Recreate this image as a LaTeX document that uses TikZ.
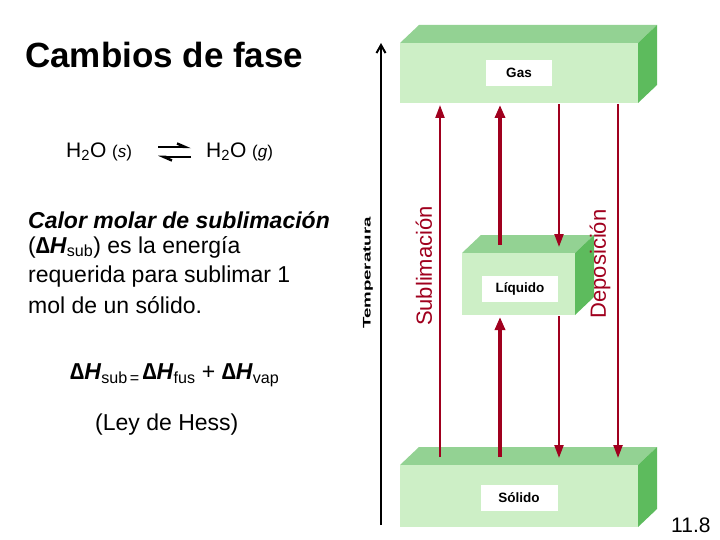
\documentclass[tikz,border=0pt]{standalone}
\usepackage{fontspec}
\setmainfont{Liberation Sans}
\usetikzlibrary{arrows.meta}
\definecolor{fr}{HTML}{CDEFC6}
\definecolor{tp}{HTML}{93D293}
\definecolor{sd}{HTML}{5DBB5D}
\definecolor{ar}{HTML}{A0001E}
\tikzset{x=1pt,y=-1pt,
 lbl/.style={fill=white,inner sep=0pt,minimum height=26pt,font=\fontsize{13.5}{15}\selectfont\bfseries},
 rarr/.style={ar,line width=2.2pt,-{Triangle[length=13pt,width=9pt]}},
 rthk/.style={ar,line width=3.5pt,-{Triangle[length=13pt,width=10pt]}},
 txt/.style={font=\fontsize{23}{26}\selectfont,anchor=west,inner sep=0pt}}
\newcommand{\slab}[4]{% x1 y1 x2 y2
 \fill[tp] (#1,#2)--(#1+19,#2-18)--(#3+19,#2-18)--(#3,#2)--cycle;
 \fill[sd] (#3,#2)--(#3+19,#2-18)--(#3+19,#4-18)--(#3,#4)--cycle;
 \fill[fr] (#1,#2) rectangle (#3,#4);}
\begin{document}
\begin{tikzpicture}
\useasboundingbox (0,0) rectangle (720,540);
\slab{400}{43}{638}{103}
\slab{462}{253}{575}{315}
\slab{400}{465}{638}{527}
\node[lbl,minimum width=66pt] (gas) at (519,73) {Gas};
\node[lbl,minimum width=76pt] (liq) at (520,289) {Líquido};
\node[lbl,minimum width=77pt] (sol) at (519,498) {Sólido};
\coordinate (g1) at (440,105); \coordinate (s1) at (440,457);
\coordinate (g2) at (500,105); \coordinate (l2t) at (500,245);
\coordinate (l2b) at (500,317); \coordinate (s2) at (500,457);
\coordinate (g3) at (559,104); \coordinate (l3t) at (559,247);
\coordinate (l3b) at (559,316); \coordinate (s3) at (559,458);
\coordinate (g4) at (618,104); \coordinate (s4) at (618,458);
\draw[rarr] (s1)--(g1);
\draw[rthk] (l2t)--(g2);
\draw[rthk] (s2)--(l2b);
\draw[rarr] (g3)--(l3t);
\draw[rarr] (l3b)--(s3);
\draw[rarr] (g4)--(s4);
\coordinate (t0) at (381,525); \coordinate (t1) at (381,43);
\draw[line width=2pt,-{Straight Barb[length=8pt,width=9pt]}] (t0)--(t1);
\node[rotate=90,font=\fontsize{11}{13}\selectfont\bfseries] (temp) at (368,273) {\scalebox{1.7}[1]{Temperatura}};
\node[rotate=90,ar,font=\fontsize{22}{24}\selectfont] (subl) at (424,266) {Sublimación};
\node[rotate=90,ar,font=\fontsize{22}{24}\selectfont] (depo) at (600,264) {Deposición};
\node[font=\fontsize{35}{38}\selectfont\bfseries,anchor=west,inner sep=0pt] (title) at (25,55) {Cambios de fase};
\node[font=\fontsize{21}{24}\selectfont,anchor=west,inner sep=0pt] (h1) at (66,152) {H\textsubscript{2}O {\fontsize{17}{18}\selectfont(\textit{s})}};
\node[font=\fontsize{21}{24}\selectfont,anchor=west,inner sep=0pt] (h2) at (206,152) {H\textsubscript{2}O {\fontsize{17}{18}\selectfont(\textit{g})}};
\coordinate (e1) at (158,147); \coordinate (e2) at (191,147);
\coordinate (e3) at (191,157); \coordinate (e4) at (158,157);
\draw[line width=2.5pt,-{Straight Barb[left,length=8pt,width=7pt]}] (e1)--(e2);
\draw[line width=2.5pt,-{Straight Barb[left,length=8pt,width=7pt]}] (e3)--(e4);
\node[txt] (p1) at (28,220) {\bfseries\itshape Calor molar de sublimación};
\node[txt] (p2) at (28,247) {(\textbf{\textit{∆H}}\textsubscript{sub}) es la energía};
\node[txt] (p3) at (28,277) {requerida para sublimar 1};
\node[txt] (p4) at (28,305) {mol de un sólido.};
\node[txt] (eq) at (70,375) {\textbf{\textit{∆H}}\textsubscript{sub\,=\,}\textbf{\textit{∆H}}\textsubscript{fus} + \textbf{\textit{∆H}}\textsubscript{vap}};
\node[txt] (hess) at (95,425) {(Ley de Hess)};
\node[txt,font=\fontsize{21}{24}\selectfont] (num) at (671,525) {11.8};
\end{tikzpicture}
\end{document}
